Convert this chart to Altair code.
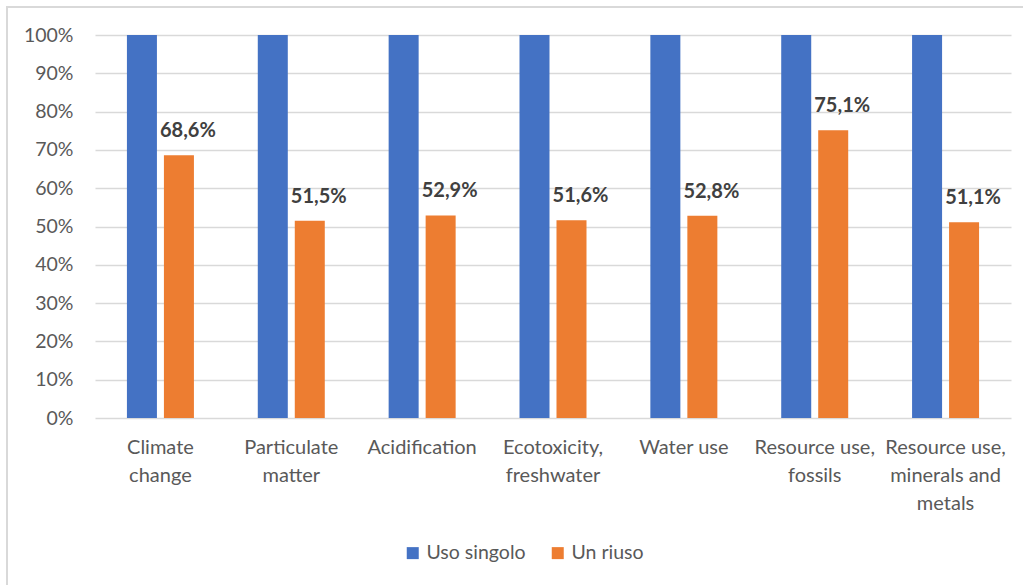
import altair as alt
import pandas as pd

# Impact categories ("|" marks a line break in the axis label)
categories = [
    "Climate|change",
    "Particulate|matter",
    "Acidification",
    "Ecotoxicity,|freshwater",
    "Water use",
    "Resource use,|fossils",
    "Resource use,|minerals and|metals",
]
series = ["Uso singolo", "Un riuso"]
uso_singolo = [100, 100, 100, 100, 100, 100, 100]
un_riuso = [68.6, 51.5, 52.9, 51.6, 52.8, 75.1, 51.1]
colors = ["#4472C4", "#ED7D31"]

rows = []
for i, cat in enumerate(categories):
    rows.append({"cat": cat, "serie": series[0], "value": uso_singolo[i]})
    rows.append({"cat": cat, "serie": series[1], "value": un_riuso[i]})
df = pd.DataFrame(rows)

FONT = "Lato"
GREY = "#595959"

x_enc = alt.X(
    "cat:N",
    sort=categories,
    scale=alt.Scale(paddingInner=0.488, paddingOuter=0.244),
    axis=alt.Axis(
        title=None,
        labelAngle=0,
        labelExpr="split(datum.value, '|')",
        labelLineHeight=28,
        labelPadding=29,
        labelBaseline="middle",
        labelLimit=300,
        labelFontSize=20,
        labelColor=GREY,
        labelFont=FONT,
        domain=False,
        ticks=False,
        grid=False,
    ),
)
xoff_enc = alt.XOffset(
    "serie:N",
    sort=series,
    scale=alt.Scale(domain=series, paddingInner=0.189, paddingOuter=0),
)
y_enc = alt.Y(
    "value:Q",
    scale=alt.Scale(domain=[0, 100], nice=False),
    axis=alt.Axis(
        title=None,
        values=list(range(0, 101, 10)),
        labelExpr="datum.value + '%'",
        labelFontSize=19.5,
        labelColor=GREY,
        labelFont=FONT,
        labelPadding=22,
        domain=False,
        ticks=False,
        gridColor="#d9d9d9",
        gridWidth=1.5,
    ),
)

bars = alt.Chart(df).mark_bar().encode(
    x=x_enc,
    xOffset=xoff_enc,
    y=y_enc,
    color=alt.Color(
        "serie:N",
        sort=series,
        scale=alt.Scale(domain=series, range=colors),
        legend=alt.Legend(
            title=None,
            orient="none",
            legendX=308,
            legendY=508,
            direction="horizontal",
            symbolType="square",
            symbolSize=144,
            symbolStrokeWidth=0,
            labelFontSize=19.5,
            labelColor=GREY,
            labelFont=FONT,
            labelOffset=4,
            columnPadding=22,
        ),
    ),
)

labels = (
    alt.Chart(df)
    .transform_filter(alt.datum.serie == "Un riuso")
    .transform_calculate(txt="replace(format(datum.value / 100, '.1%'), '.', ',')")
    .mark_text(
        font=FONT,
        fontSize=20,
        fontWeight="bold",
        color="#404040",
        baseline="alphabetic",
        dy=-18,
        dx=9,
    )
    .encode(x=x_enc, xOffset=xoff_enc, y=y_enc, text="txt:N")
)

# thin outer frame of the chart
frame = alt.Chart(alt.Data(values=[{}])).mark_rect(
    fill=None, stroke="#d9d9d9", strokeWidth=2
).encode(
    x=alt.value(-88), x2=alt.value(1040), y=alt.value(-28), y2=alt.value(600)
)

chart = (
    alt.layer(frame, bars, labels)
    .properties(
        width=916,
        height=383,
        padding={"left": 95, "top": 35, "right": 12, "bottom": 167},
        autosize=alt.AutoSizeParams(type="none"),
        background="white",
    )
    .configure_view(stroke=None)
)

chart.save("out.html", embed_options={"renderer": "svg", "actions": False})
